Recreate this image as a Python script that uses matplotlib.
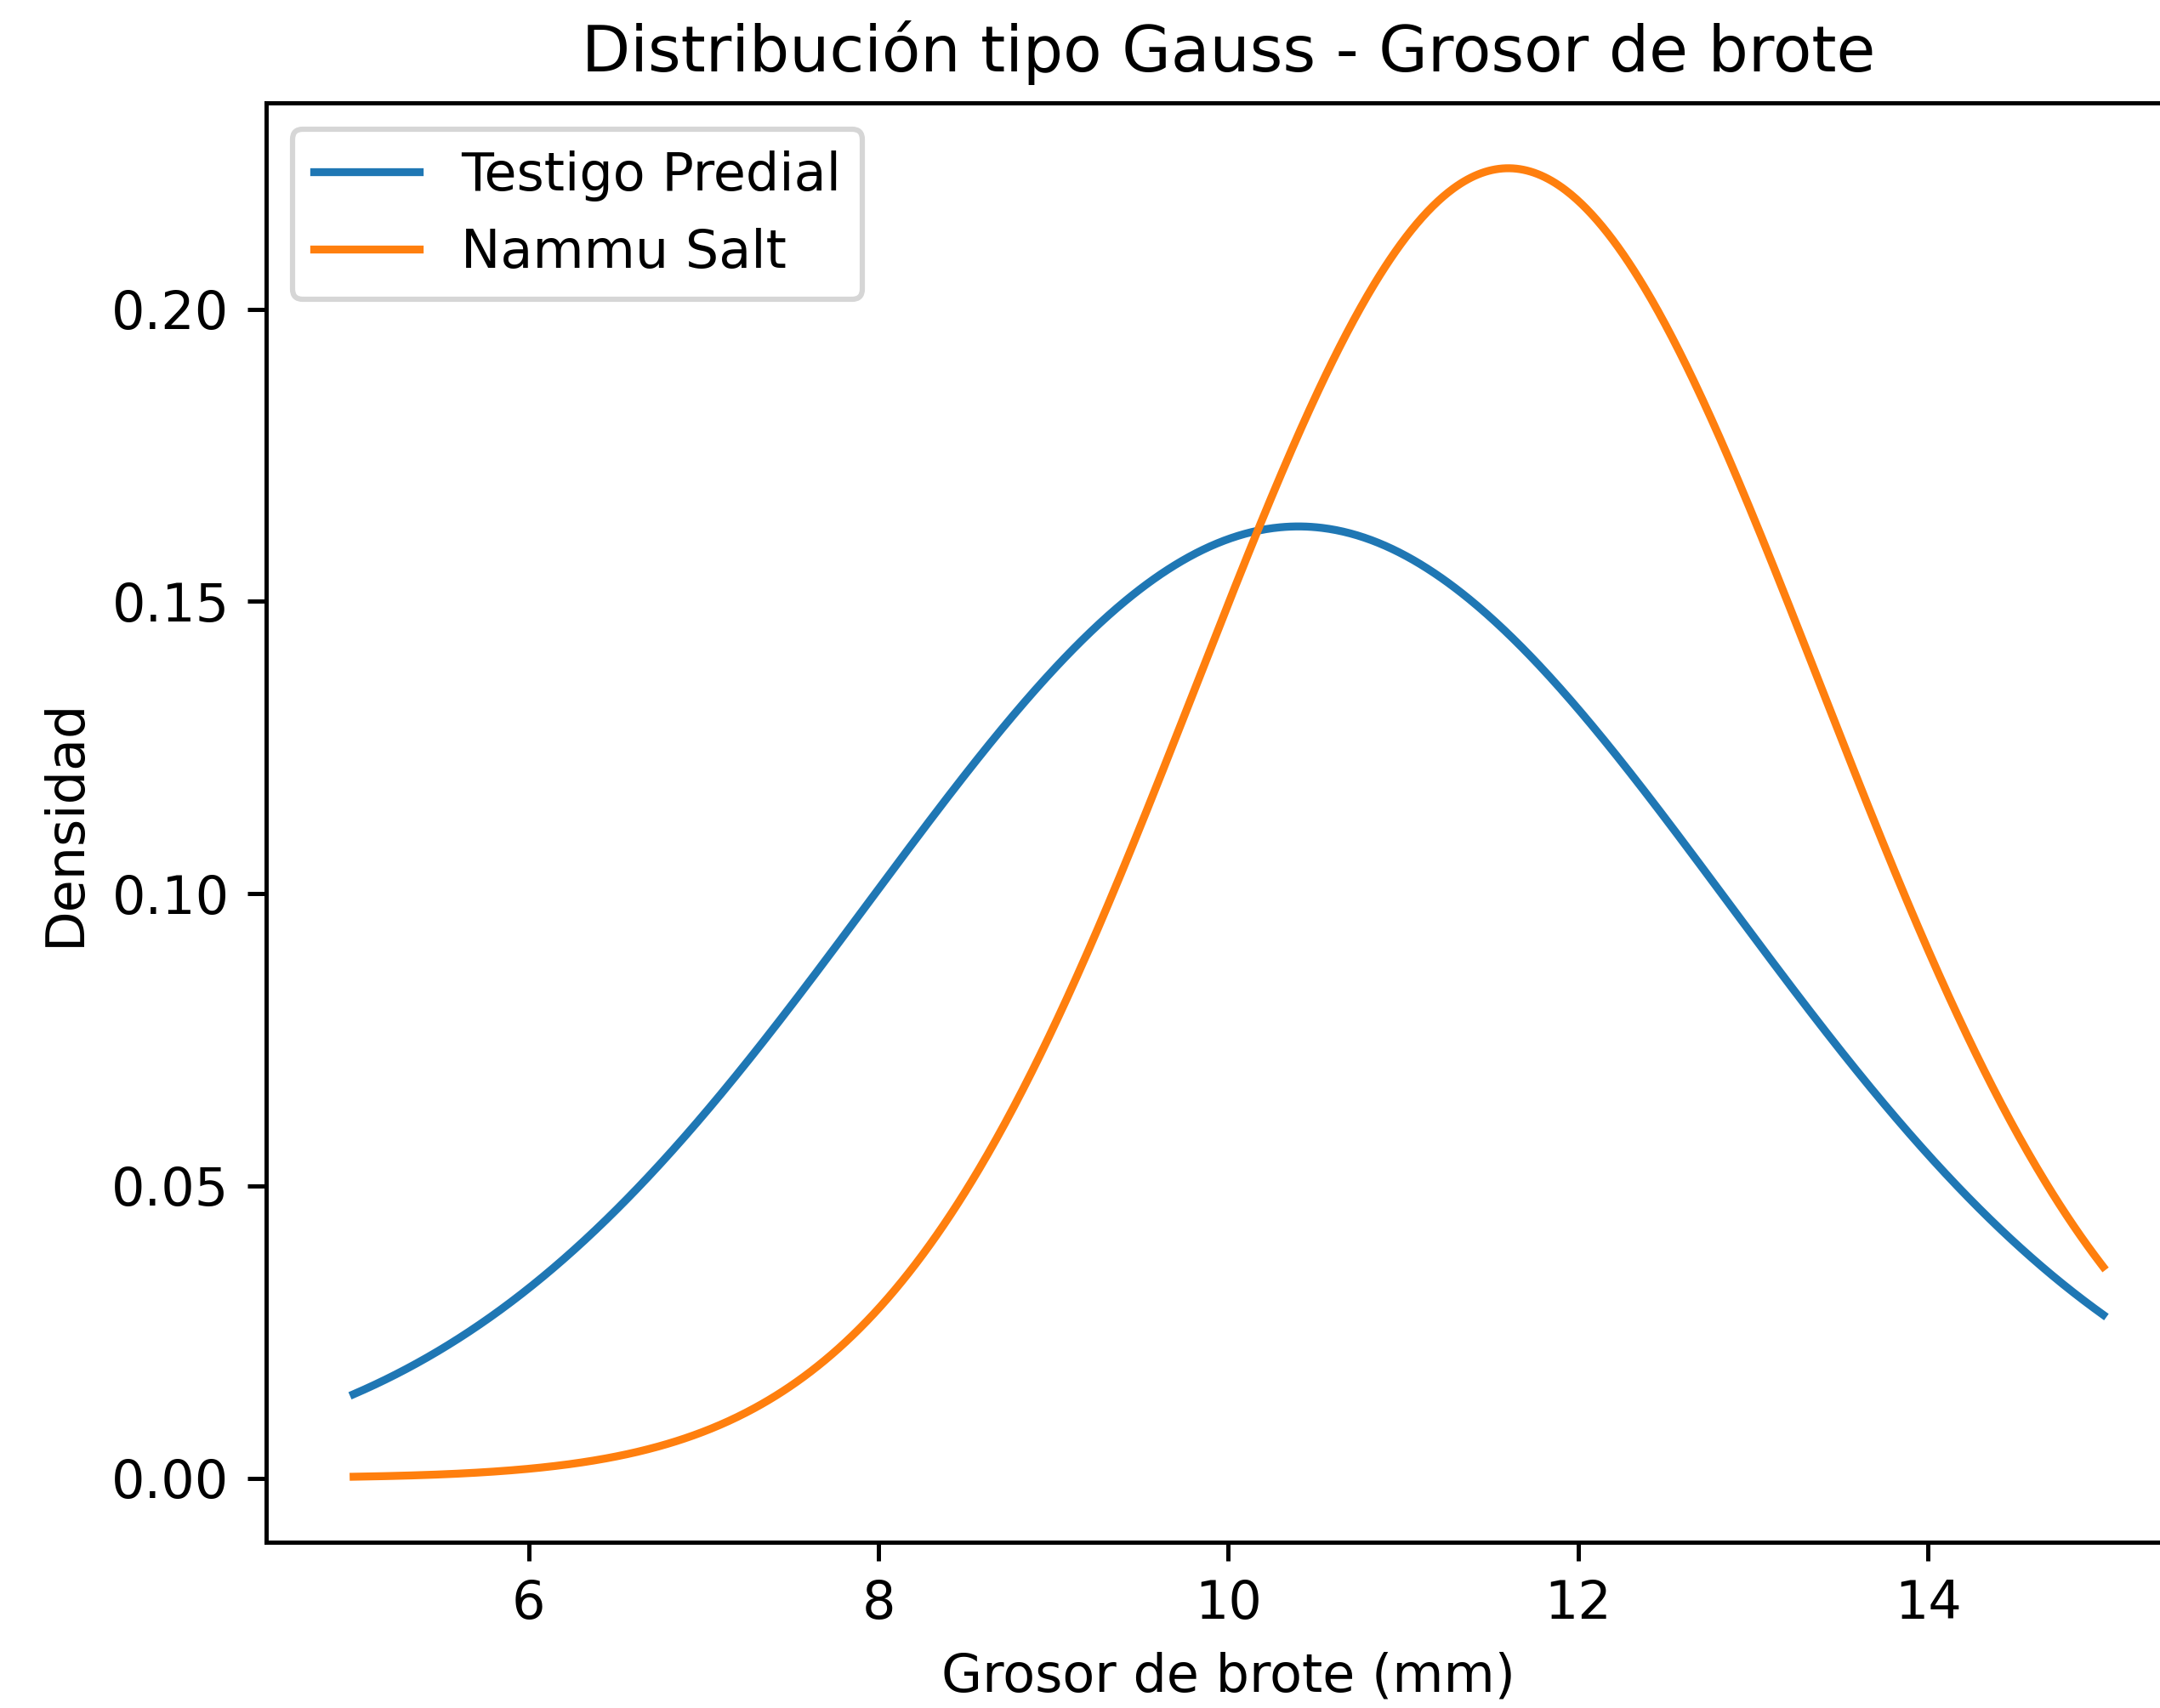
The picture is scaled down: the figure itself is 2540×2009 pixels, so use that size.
import numpy as np
import matplotlib
matplotlib.use("Agg")
import matplotlib.pyplot as plt

# Data: Gaussian parameters (mean, std dev)
series_names = ["Testigo Predial", "Nammu Salt"]
means = [10.4, 11.6]
stds = [2.45, 1.78]
x_range = [5, 15]

DPI = 446
fig = plt.figure(figsize=(2540 / DPI, 2009 / DPI), dpi=DPI)
ax = fig.add_axes([0.1232, 0.0971, 0.891, 0.8427])

x = np.linspace(x_range[0], x_range[1], 1000)
for name, m, s in zip(series_names, means, stds):
    y = np.exp(-0.5 * ((x - m) / s) ** 2) / (s * np.sqrt(2 * np.pi))
    ax.plot(x, y, label=name)

ax.set_title("Distribución tipo Gauss - Grosor de brote")
ax.set_xlabel("Grosor de brote (mm)")
ax.set_ylabel("Densidad")
ax.legend(loc="upper left")

fig.savefig("out.png", dpi=DPI)
